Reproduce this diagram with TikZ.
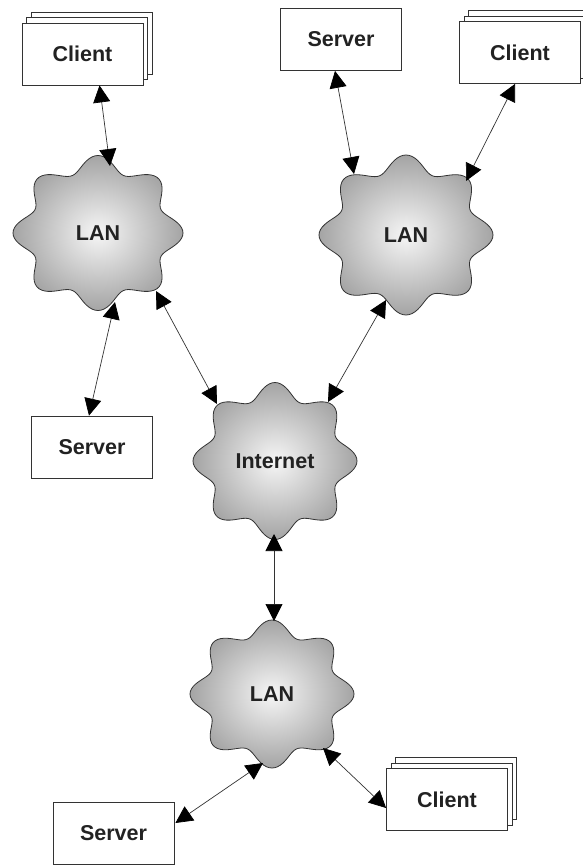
\documentclass[tikz,border=0pt]{standalone}
\usepackage{fontspec}
\setmainfont{Liberation Sans}
\usetikzlibrary{arrows.meta,shadows,calc}
\definecolor{edge}{HTML}{333333}
\definecolor{ink}{HTML}{222222}
\definecolor{blobin}{HTML}{F6F6F6}
\definecolor{blobout}{HTML}{A4A4A4}
\tikzset{
  lbl/.style={text=ink, font=\fontsize{21.5}{24}\selectfont\bfseries, inner sep=0pt},
  box/.style={lbl, draw=edge, line width=0.8pt, fill=white,
              minimum width=121pt, minimum height=62pt},
  stack/.style={box, double copy shadow={shadow xshift=4.5pt, shadow yshift=5.5pt,
              draw=edge, fill=white, line width=0.8pt}},
  blob/.style={draw=edge, line width=0.8pt, inner color=blobin, outer color=blobout},
  link/.style={draw=edge, line width=0.7pt,
              >={Triangle[length=17pt,width=17pt,color=black,fill=black]}, <->}
}
% wavy eight-lobed network cloud: name, cx, cy, rx, ry, text
\newcommand\netcloud[6]{%
  \shade[blob] plot[smooth cycle, domain=0:358, samples=180, variable=\t]
    ({#2+#4*(0.80+0.10*(1+cos(8*\t)))*cos(\t)},
     {#3+#5*(0.80+0.10*(1+cos(8*\t)))*sin(\t)});
  \node[lbl] (#1) at (#2,#3) {#6};}
\begin{document}
\begin{tikzpicture}[x=1pt, y=-1pt]
\useasboundingbox (0,0) rectangle (582,865);

% clouds
\netcloud{lanA}{98}{233}{85}{77.5}{LAN}
\netcloud{lanB}{406}{235}{87}{80}{LAN}
\netcloud{inet}{275}{461}{82}{78.5}{Internet}
\netcloud{lanC}{272}{694}{82}{74}{LAN}

% hosts
\node[stack] (cliA) at (82.5,54) {Client};
\node[box]   (srvB) at (341,39.5) {Server};
\node[stack] (cliB) at (520,52.5) {Client};
\node[box]   (srvA) at (92,447) {Server};
\node[box]   (srvC) at (113.5,833) {Server};
\node[stack] (cliC) at (447,799.5) {Client};

% links
\draw[link] ($(cliA.south)+(17,0)$) -- ($(lanA)+(12,-67)$);
\draw[link] ($(srvB.south)+(-6,0)$) -- ($(lanB)+(-52,-61)$);
\draw[link] ($(cliB.south)+(-5,0)$) -- ($(lanB)+(60,-54)$);
\draw[link] ($(lanA)+(17,69)$) -- ($(srvA.north)+(-3,0)$);
\draw[link] ($(lanA)+(58,58)$) -- ($(inet)+(-58,-57)$);
\draw[link] ($(lanB)+(-20,65)$) -- ($(inet)+(53,-59)$);
\draw[link] ($(inet)+(-1,73)$) -- ($(lanC)+(2,-73)$);
\draw[link] ($(lanC)+(-9,69)$) -- ($(srvC.east)+(1,-10)$);
\draw[link] ($(lanC)+(51,54)$) -- ($(cliC.west)+(0,8.5)$);
\end{tikzpicture}
\end{document}
